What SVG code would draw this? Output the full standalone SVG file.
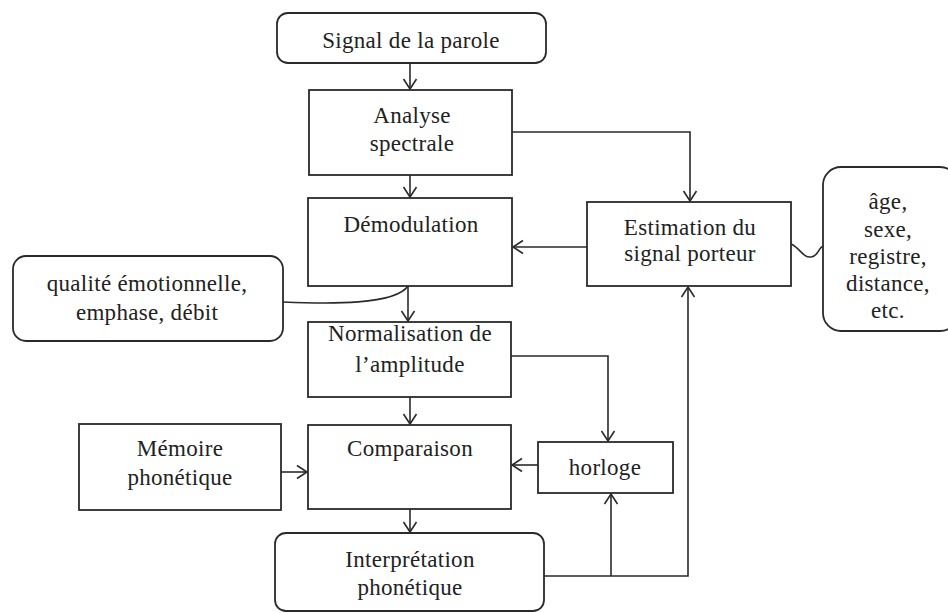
<svg xmlns="http://www.w3.org/2000/svg" width="948" height="613" viewBox="0 0 948 613">
<defs>
<marker id="arr" markerUnits="userSpaceOnUse" markerWidth="20" markerHeight="20" viewBox="-12 -10 14 20" refX="0" refY="0" orient="auto">
<path d="M-10,-6.5 L0,0 L-10,6.5" fill="none" stroke="#2a2a2a" stroke-width="1.6"/>
</marker>
<style>
.box{fill:#fff;stroke:#2a2a2a;stroke-width:1.8}
.ln{fill:none;stroke:#2a2a2a;stroke-width:1.6}
text{font-family:"Liberation Serif","Times New Roman",serif;font-size:23px;fill:#222;text-anchor:middle;letter-spacing:0.3px}
</style>
</defs>
<rect width="948" height="613" fill="#fff"/>
<g id="connectors">
<path class="ln" d="M410,63 V89" marker-end="url(#arr)"/>
<path class="ln" d="M410,175 V197" marker-end="url(#arr)"/>
<path class="ln" d="M512,132 H690 V201" marker-end="url(#arr)"/>
<path class="ln" d="M587,247 H513" marker-end="url(#arr)"/>
<path class="ln" d="M791,244 C800,248 803,258 811,257 C819,256 818,248 823,246"/>
<path class="ln" d="M408,286 V321" marker-end="url(#arr)"/>
<path class="ln" d="M283,302 C330,304 395,305 408,286"/>
<path class="ln" d="M511,356 H608 V441" marker-end="url(#arr)"/>
<path class="ln" d="M410,397 V424" marker-end="url(#arr)"/>
<path class="ln" d="M281,472 H307" marker-end="url(#arr)"/>
<path class="ln" d="M538,465 H512" marker-end="url(#arr)"/>
<path class="ln" d="M410,509 V532" marker-end="url(#arr)"/>
<path class="ln" d="M544,576 H688 V287" marker-end="url(#arr)"/>
<path class="ln" d="M611,576 V494" marker-end="url(#arr)"/>
</g>
<g id="signal">
<rect class="box" x="277" y="13" width="269" height="50" rx="11"/>
<text x="411" y="48">Signal de la parole</text>
</g>
<g id="analyse">
<rect class="box" x="309" y="90" width="203" height="85"/>
<text x="412" y="123">Analyse</text>
<text x="412" y="151">spectrale</text>
</g>
<g id="demodulation">
<rect class="box" x="308" y="198" width="204" height="88"/>
<text x="411" y="232">Démodulation</text>
</g>
<g id="qualite">
<rect class="box" x="13" y="256" width="270" height="85" rx="13"/>
<text x="147" y="291">qualité émotionnelle,</text>
<text x="147" y="320">emphase, débit</text>
</g>
<g id="estimation">
<rect class="box" x="587" y="202" width="204" height="84"/>
<text x="690" y="235">Estimation du</text>
<text x="690" y="261">signal porteur</text>
</g>
<g id="age">
<rect class="box" x="823" y="167" width="135" height="164" rx="18"/>
<text x="888" y="209">âge,</text>
<text x="888" y="237">sexe,</text>
<text x="888" y="264">registre,</text>
<text x="888" y="291">distance,</text>
<text x="888" y="318">etc.</text>
</g>
<g id="normalisation">
<rect class="box" x="308" y="322" width="203" height="75"/>
<text x="410" y="341">Normalisation de</text>
<text x="410" y="372">l’amplitude</text>
</g>
<g id="memoire">
<rect class="box" x="79" y="424" width="202" height="86"/>
<text x="180" y="456">Mémoire</text>
<text x="180" y="485">phonétique</text>
</g>
<g id="comparaison">
<rect class="box" x="308" y="425" width="203" height="84"/>
<text x="410" y="456">Comparaison</text>
</g>
<g id="horloge">
<rect class="box" x="538" y="442" width="135" height="51"/>
<text x="605" y="475">horloge</text>
</g>
<g id="interpretation">
<rect class="box" x="275" y="533" width="269" height="78" rx="11"/>
<text x="410" y="567">Interprétation</text>
<text x="410" y="595">phonétique</text>
</g>
</svg>
